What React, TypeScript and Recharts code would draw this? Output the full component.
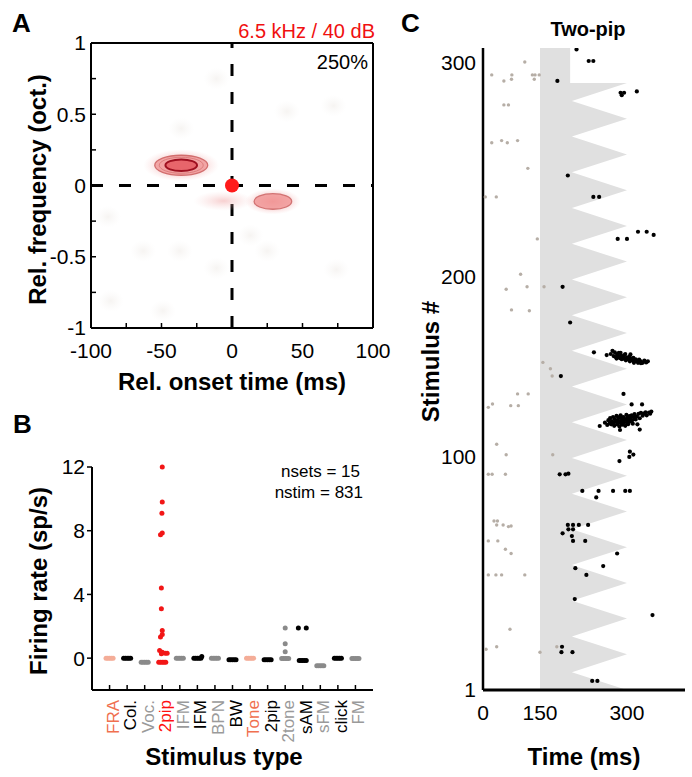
import React from 'react';
import { ComposedChart, Scatter, XAxis, YAxis, ReferenceLine, Area } from 'recharts';

const FONT = "'Liberation Sans', Arial, Helvetica, sans-serif";

// ---------------- Panel A : two-pip response map ----------------
const onsetTicks = [-100, -75, -50, -25, 0, 25, 50, 75, 100];
const onsetTickLabels = ['-100', '', '-50', '', '0', '', '50', '', '100'];
const freqTicks = [-1, -0.75, -0.5, -0.25, 0, 0.25, 0.5, 0.75, 1];
const freqTickLabels = ['-1', '', '-0.5', '', '0', '', '0.5', '', '1'];

const peakOnset = [-36];
const peakFreq = [0.142];
const secondaryOnset = [29];
const secondaryFreq = [-0.112];
const smearOnset = [-6];
const smearFreq = [-0.108];
const faintOnset = [-11, 39, 72, -36, -88, -63, -37, 13, 25, 74, -86, -49, -11];
const faintFreq = [0.75, 0.52, 0.56, 0.4, -0.22, -0.46, -0.46, -0.35, -0.46, -0.59, -0.81, -0.88, -0.58];
const bfOnset = [0];
const bfFreq = [0];

// ---------------- Panel B : firing rate per stimulus type ----------------
const stimTypes = ['FRA', 'Col.', 'Voc.', '2pip', 'IFM', 'IFM', 'BPN', 'BW', 'Tone', '2pip', '2tone', 'sAM', 'sFM', 'click', 'FM'];
const stimColorKey = ['salmon', 'black', 'gray', 'red', 'gray', 'black', 'gray', 'black', 'salmon', 'black', 'gray', 'black', 'gray', 'black', 'gray'];
const baselineRate = [0, 0, -0.25, -0.25, 0, 0, 0, -0.1, 0, -0.1, -0.03, -0.15, -0.48, 0, -0.02];
const respStim = [4, 4, 4, 4, 4, 4, 4, 4, 4, 4, 4, 4, 4, 4, 4, 6, 11, 11, 11, 12, 12];
const respRate = [12, 9.8, 9.1, 7.85, 7.75, 4.4, 3.1, 1.74, 1.49, 1.32, 0.48, 0.37, 0.31, 0.27, 0.31, 0.1, 1.9, 0.9, 0.4, 1.9, 1.9];
const respJitter = [0, 0, -0.02, 0, -0.1, -0.05, -0.05, 0, 0, -0.1, -0.15, 0, 0.17, -0.05, 0.28, 0.25, 0, 0, 0, -0.25, 0.2];
const rateTicks = [0, 4, 8, 12];

// ---------------- Panel C : two-pip raster ----------------
const timeTicksMs = [0, 150, 300];
const stimTickLabels = ['1', '100', '200', '300'];
const stimTickRows = [1, 112, 198, 300];
const toneEdgeRow = [306.7, 290, 290, 281.5, 273, 264.5, 256, 247.5, 239, 230.5, 222, 213.5, 205, 196.5, 188, 179.5, 171, 162.5, 154, 145.5, 137, 128.5, 120, 111.5, 103, 94.5, 86, 77.5, 69, 60.5, 52, 43.5, 35, 26.5, 18, 9.5, 1];
const toneEdgeEnd = [202, 202, 300, 205, 300, 205, 300, 205, 300, 205, 300, 205, 300, 205, 300, 205, 300, 205, 300, 205, 300, 205, 300, 205, 300, 205, 300, 205, 300, 205, 300, 205, 300, 205, 300, 205, 300];

const evokedT = [
  213, 234, 242, 180, 289, 295, 291, 317, 198, 242, 252, 319, 334, 346, 284, 300, 189, 202, 243,
  265, 272, 275, 277, 279, 281, 283, 285, 286, 288, 290, 291, 293, 295, 296, 298, 300, 302, 304, 305, 307, 309, 311, 313, 315, 317, 319, 321, 324, 327, 330, 333, 336, 282, 289, 297, 306, 312, 324,
  186, 294, 308, 326,
  253, 262, 266, 268, 270, 271, 273, 274, 276, 277, 278, 279, 280, 282, 283, 284, 285, 286, 287, 288, 289, 290, 291, 292, 293, 294, 295, 296, 297, 298, 299, 300, 301, 302, 303, 304, 305, 306, 308, 309, 310, 312, 313, 315, 317, 318, 320, 322, 324, 327, 329, 332, 334, 338, 340, 342,
  322, 288, 305, 311, 304, 287, 184, 194, 199, 223, 251, 276, 297, 305, 247, 198, 207, 217, 233, 199, 207, 189, 205, 207, 228, 283, 259, 211, 230, 210, 344, 188, 187, 206, 240, 249,
];
const evokedRow = [
  306, 300.5, 300.5, 291, 285.4, 285.4, 284.2, 286, 246, 235.8, 235.8, 219.2, 219.2, 217.7, 215.8, 215.8, 193, 176, 161.8,
  160.5, 161, 162.5, 160, 161.8, 159.5, 160.8, 159.8, 161.5, 159, 160.2, 158.5, 159.7, 158.8, 160.5, 158, 159.3, 158.5, 159.8, 157.5, 158.8, 158, 159.2, 157.5, 158.5, 157.8, 156.8, 158.3, 157.5, 156.8, 157.8, 157, 157.5, 158.8, 161.5, 161, 160.8, 156.8, 156.6,
  150.5, 142, 137, 137,
  126.7, 128.3, 127.2, 129.5, 128, 130.5, 127.5, 129, 131, 128.3, 126.8, 130, 128.8, 131.5, 127.5, 129.5, 128.3, 130.8, 126.5, 129, 131.8, 128, 130.3, 127.3, 129.3, 131, 128.5, 130, 126.8, 129.7, 132, 128.2, 130.6, 127.6, 129.2, 131.4, 128.8, 130.2, 131.8, 129.4, 127.8, 130.8, 132.4, 129.8, 131.3, 127.5, 132.5, 130.4, 133, 131.6, 132.6, 133.2, 131.8, 133.1, 132.6, 133.6,
  125, 124.8, 114.5, 113.1, 112, 110, 103.7, 103.7, 104, 95.8, 95.8, 95.8, 95.8, 95.8, 92.7, 79.6, 79.6, 79.6, 79.6, 77.5, 77.5, 75.6, 74.3, 72, 72, 66, 60, 59, 55.8, 44.3, 36.7, 21.6, 19, 19, 5.3, 5.3,
];
const spontT = [110, 23, 55, 76, 75, 130, 137, 148, 135, 55, 67, 23, 49, 64, 91, 118, 6, 35, 143, 99, 61, 116, 157, 75, 122, 155, 168, 171, 91, 119, 25, 14, 73, 93, 36, 61, 172, 14, 24, 59, 29, 38, 36, 53, 67, 74, 14, 39, 59, 74, 14, 34, 49, 110, 71, 36, 8, 150, 179];
const spontRow = [300, 293.9, 291, 293.9, 291.8, 293.9, 293.9, 293.9, 291.8, 279.6, 279.6, 261.6, 262.6, 261.6, 262.6, 249.4, 235.8, 235.8, 215.8, 199, 191.8, 193, 193, 182, 181.6, 157, 154, 150.5, 142, 142, 137.2, 135.6, 136.4, 136.4, 118, 113, 113, 103.7, 103.7, 103.7, 81.5, 81.5, 79.6, 79.6, 78.8, 79.1, 72, 72, 68, 66, 55.8, 55.8, 55.8, 55.8, 29.9, 21.6, 20.4, 19, 21.6];

// ---------------- derived tables ----------------
const pts = (xs: number[], ys: number[]) => xs.map((x, i) => ({ x, y: ys[i] }));
const peakData = pts(peakOnset, peakFreq);
const secondaryData = pts(secondaryOnset, secondaryFreq);
const smearData = pts(smearOnset, smearFreq);
const faintData = pts(faintOnset, faintFreq);
const bfData = pts(bfOnset, bfFreq);

const BAR_JITTER = [-0.2, -0.1, 0, 0.1, 0.2];
const bPoints: { x: number; y: number; c: string }[] = [];
stimTypes.forEach((_, i) => {
  BAR_JITTER.forEach((j) => bPoints.push({ x: i + 1 + j, y: baselineRate[i], c: stimColorKey[i] }));
});
respStim.forEach((s, k) => bPoints.push({ x: s + respJitter[k], y: respRate[k], c: stimColorKey[s - 1] }));
const stimPositions = stimTypes.map((_, i) => i + 1);

// broken time axis: pre-stimulus window (0-150 ms) is compressed
const PRE_COMPRESS = 0.655;
const warp = (t: number) => (t < 150 ? t * PRE_COMPRESS : 150 * PRE_COMPRESS + (t - 150));
const U150 = warp(150);
const U_MAX = 348.3;
const ROW_MAX = 306.7;
const timeTicksU = timeTicksMs.map(warp);
const toneEdge = toneEdgeRow.map((row, i) => ({ row, end: toneEdgeEnd[i] }));
const evoked = evokedT.map((t, i) => ({ u: warp(t), row: Math.min(evokedRow[i], ROW_MAX) }));
const spont = spontT.map((t, i) => ({ u: warp(t), row: spontRow[i] }));

// ---------------- styles ----------------
const COLORS: Record<string, { label: string; dot: string }> = {
  salmon: { label: '#F0704F', dot: '#F4AD98' },
  black: { label: '#000000', dot: '#000000' },
  gray: { label: '#9A9A9A', dot: '#8A8A8A' },
  red: { label: '#FF1010', dot: '#F21616' },
};
const axisStroke = { stroke: '#000', strokeWidth: 2 };
const tickStroke = { stroke: '#000', strokeWidth: 1.5 };
const tickFont = { fill: '#000', fontSize: 21, fontFamily: FONT };

const PeakShape = (p: any) => (
  <g>
    <ellipse cx={p.cx} cy={p.cy} rx={38} ry={16} fill="url(#glowRed)" />
    <ellipse cx={p.cx} cy={p.cy} rx={26.5} ry={10} fill="rgba(236,128,128,0.6)" stroke="rgba(205,100,100,0.9)" strokeWidth={1.3} />
    <ellipse cx={p.cx} cy={p.cy} rx={22} ry={8} fill="none" stroke="rgba(215,115,115,0.8)" strokeWidth={1} />
    <ellipse cx={p.cx} cy={p.cy} rx={15.8} ry={5.8} fill="rgba(230,98,104,0.95)" stroke="#9E1020" strokeWidth={2} />
  </g>
);
const SecondaryShape = (p: any) => (
  <g>
    <ellipse cx={p.cx} cy={p.cy} rx={28} ry={13} fill="url(#glowRed)" />
    <ellipse cx={p.cx} cy={p.cy} rx={18.8} ry={7.8} fill="rgba(240,140,140,0.7)" stroke="rgba(205,105,105,0.9)" strokeWidth={1.3} />
  </g>
);
const SmearShape = (p: any) => <ellipse cx={p.cx} cy={p.cy} rx={30} ry={10} fill="url(#glowSmear)" />;
const FaintShape = (p: any) => <ellipse cx={p.cx} cy={p.cy} rx={13} ry={11} fill="url(#glowFaint)" />;
const BfShape = (p: any) => <circle cx={p.cx} cy={p.cy} r={7} fill="#FF1A1A" />;

const makeDot = (fill: string, r: number) => (p: any) => <circle cx={p.cx} cy={p.cy} r={r} fill={fill} />;

const CatTick = (p: any) => {
  const idx = Math.round(p.payload.value) - 1;
  const x = p.x + 9;
  const y = p.y;
  return (
    <text x={x} y={y} transform={`rotate(-90, ${x}, ${y})`} textAnchor="end" fontSize={17} fontFamily={FONT} fill={COLORS[stimColorKey[idx]].label}>
      {stimTypes[idx]}
    </text>
  );
};

const fmtFrom = (values: number[], labels: string[]) => (v: number) => {
  const i = values.findIndex((x) => Math.abs(x - v) < 1e-6);
  return i >= 0 ? labels[i] : '';
};

export default function App() {
  return (
    <div style={{ position: 'absolute', left: 0, top: 0, width: 692, height: 777, background: '#fff', fontFamily: FONT }}>
      {/* Panel A */}
      <div style={{ position: 'absolute', left: 0, top: 0 }}>
        <ComposedChart width={400} height={390} margin={{ top: 0, right: 0, bottom: 0, left: 0 }}>
          <XAxis xAxisId="b" type="number" dataKey="x" domain={[-100, 100]} allowDataOverflow ticks={onsetTicks} interval={0}
            tickFormatter={fmtFrom(onsetTicks, onsetTickLabels)} height={62} tickSize={-5} tickMargin={20}
            axisLine={axisStroke} tickLine={tickStroke} tick={tickFont} />
          <XAxis xAxisId="t" orientation="top" type="number" domain={[-100, 100]} allowDataOverflow ticks={onsetTicks} interval={0}
            height={43} tickSize={-5} tick={false} axisLine={axisStroke} tickLine={tickStroke} />
          <YAxis yAxisId="l" type="number" dataKey="y" domain={[-1, 1]} allowDataOverflow ticks={freqTicks} interval={0}
            tickFormatter={fmtFrom(freqTicks, freqTickLabels)} width={91} tickSize={-5} tickMargin={10}
            axisLine={axisStroke} tickLine={tickStroke} tick={tickFont} />
          <YAxis yAxisId="r" orientation="right" type="number" domain={[-1, 1]} allowDataOverflow ticks={freqTicks} interval={0}
            width={27} tickSize={-5} tick={false} axisLine={axisStroke} tickLine={tickStroke} />
          <Scatter xAxisId="b" yAxisId="l" data={faintData} shape={FaintShape} isAnimationActive={false} />
          <Scatter xAxisId="b" yAxisId="l" data={smearData} shape={SmearShape} isAnimationActive={false} />
          <Scatter xAxisId="b" yAxisId="l" data={secondaryData} shape={SecondaryShape} isAnimationActive={false} />
          <Scatter xAxisId="b" yAxisId="l" data={peakData} shape={PeakShape} isAnimationActive={false} />
          <ReferenceLine xAxisId="b" yAxisId="l" x={0} stroke="#000" strokeWidth={3} strokeDasharray="12 16" />
          <ReferenceLine xAxisId="b" yAxisId="l" y={0} stroke="#000" strokeWidth={3} strokeDasharray="12 16" />
          <Scatter xAxisId="b" yAxisId="l" data={bfData} shape={BfShape} isAnimationActive={false} />
        </ComposedChart>
      </div>

      {/* Panel B */}
      <div style={{ position: 'absolute', left: 0, top: 390 }}>
        <ComposedChart width={400} height={387} margin={{ top: 77, right: 27, bottom: 0, left: 0 }}>
          <XAxis type="number" dataKey="x" domain={[0, 16]} ticks={stimPositions} interval={0}
            height={87} tickSize={-5} tickMargin={15} axisLine={axisStroke} tickLine={tickStroke} tick={CatTick} />
          <YAxis type="number" dataKey="y" domain={[-2, 12]} ticks={rateTicks} interval={0}
            width={92} tickSize={5} tickMargin={2} axisLine={axisStroke} tickLine={tickStroke} tick={tickFont} />
          {Object.keys(COLORS).map((k) => (
            <Scatter key={k} data={bPoints.filter((d) => d.c === k)} shape={makeDot(COLORS[k].dot, 2.5)} isAnimationActive={false} />
          ))}
        </ComposedChart>
      </div>

      {/* Panel C */}
      <div style={{ position: 'absolute', left: 400, top: 0 }}>
        <ComposedChart layout="vertical" width={292} height={777} margin={{ top: 48, right: 7, bottom: 0, left: 0 }}>
          <XAxis type="number" dataKey="u" domain={[0, U_MAX]} allowDataOverflow ticks={timeTicksU} interval={0}
            tickFormatter={fmtFrom(timeTicksU, timeTicksMs.map(String))} height={87} tickSize={0} tickMargin={15}
            tickLine={false} axisLine={{ stroke: '#000', strokeWidth: 3 }} tick={tickFont} />
          <YAxis type="number" dataKey="row" domain={[1, ROW_MAX]} allowDataOverflow reversed ticks={stimTickRows} interval={0}
            tickFormatter={fmtFrom(stimTickRows, stimTickLabels)} width={83} tickSize={0} tickMargin={7}
            tickLine={false} axisLine={{ stroke: '#000', strokeWidth: 2.5 }} tick={tickFont} />
          <Area data={toneEdge} dataKey={(d: any) => [U150, warp(d.end)]} type="linear" stroke="none" fill="#E0E0E0" fillOpacity={1} isAnimationActive={false} />
          <Scatter data={spont} shape={makeDot('#B6AEA6', 1.7)} isAnimationActive={false} />
          <Scatter data={evoked} shape={makeDot('#000', 2.1)} isAnimationActive={false} />
        </ComposedChart>
      </div>

      {/* titles and annotations */}
      <svg width={692} height={777} style={{ position: 'absolute', left: 0, top: 0, pointerEvents: 'none' }} fontFamily={FONT}>
        <defs>
          <radialGradient id="glowRed">
            <stop offset="0%" stopColor="rgb(238,120,120)" stopOpacity={0.55} />
            <stop offset="60%" stopColor="rgb(240,150,150)" stopOpacity={0.35} />
            <stop offset="100%" stopColor="rgb(245,190,190)" stopOpacity={0} />
          </radialGradient>
          <radialGradient id="glowSmear">
            <stop offset="0%" stopColor="rgb(240,160,160)" stopOpacity={0.5} />
            <stop offset="100%" stopColor="rgb(245,200,200)" stopOpacity={0} />
          </radialGradient>
          <radialGradient id="glowFaint">
            <stop offset="0%" stopColor="rgb(215,205,195)" stopOpacity={0.22} />
            <stop offset="100%" stopColor="rgb(230,225,220)" stopOpacity={0} />
          </radialGradient>
        </defs>
        <text x={12} y={32} fontSize={26} fontWeight="bold">A</text>
        <text x={375} y={38} fontSize={20} textAnchor="end" fill="#F01010">6.5 kHz / 40 dB</text>
        <text x={368} y={69} fontSize={20} textAnchor="end">250%</text>
        <text x={46} y={189.5} fontSize={24} fontWeight="bold" textAnchor="middle" transform="rotate(-90, 46, 189.5)">Rel. frequency (oct.)</text>
        <text x={232} y={390} fontSize={24} fontWeight="bold" textAnchor="middle">Rel. onset time (ms)</text>

        <text x={13} y={433} fontSize={26} fontWeight="bold">B</text>
        <text x={360} y={477} fontSize={17} textAnchor="end">nsets = 15</text>
        <text x={363} y={498} fontSize={17} textAnchor="end">nstim = 831</text>
        <text x={47} y={581} fontSize={24} fontWeight="bold" textAnchor="middle" transform="rotate(-90, 47, 581)">Firing rate (sp/s)</text>
        <text x={224} y={765} fontSize={24} fontWeight="bold" textAnchor="middle">Stimulus type</text>

        <text x={401} y={32} fontSize={26} fontWeight="bold">C</text>
        <text x={588} y={36} fontSize={20} fontWeight="bold" textAnchor="middle">Two-pip</text>
        <text x={439} y={361.5} fontSize={24} fontWeight="bold" textAnchor="middle" transform="rotate(-90, 439, 361.5)">Stimulus #</text>
        <text x={584} y={765} fontSize={24} fontWeight="bold" textAnchor="middle">Time (ms)</text>
      </svg>
    </div>
  );
}
